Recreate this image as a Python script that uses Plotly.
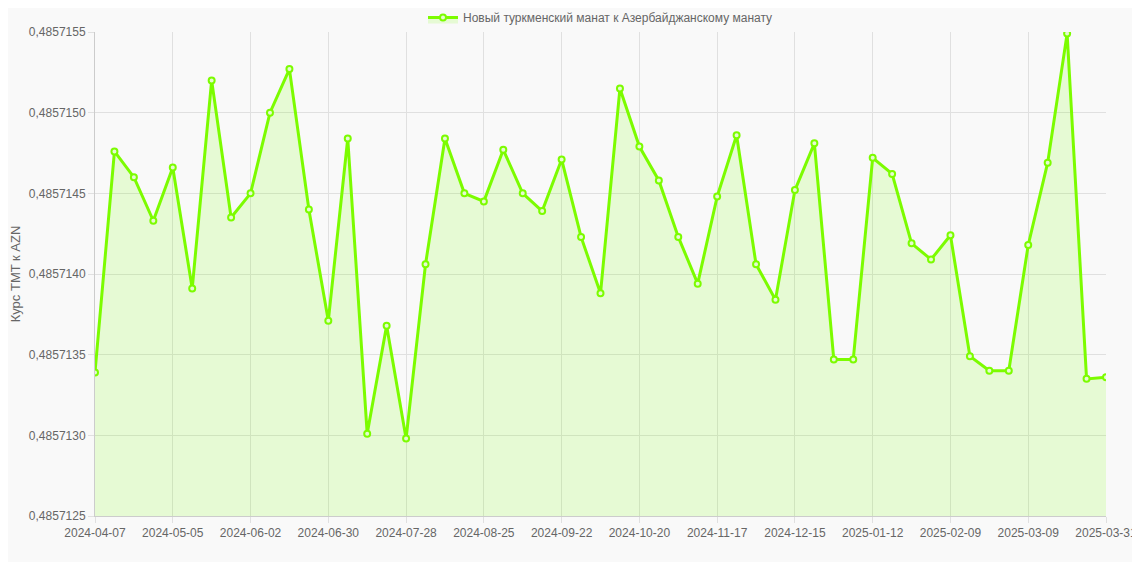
import pandas as pd
import plotly.graph_objs as go

### Data ###
dates = [d.strftime('%Y-%m-%d') for d in pd.date_range('2024-04-07', periods=52, freq='7D')] + ['2025-03-31']

rate_e7 = [133.9, 147.6, 146.0, 143.3, 146.6, 139.1, 152.0, 143.5, 145.0, 150.0,
           152.7, 144.0, 137.1, 148.4, 130.1, 136.8, 129.8, 140.6, 148.4, 145.0,
           144.5, 147.7, 145.0, 143.9, 147.1, 142.3, 138.8, 151.5, 147.9, 145.8,
           142.3, 139.4, 144.8, 148.6, 140.6, 138.4, 145.2, 148.1, 134.7, 134.7,
           147.2, 146.2, 141.9, 140.9, 142.4, 134.9, 134.0, 134.0, 141.8, 146.9,
           154.9, 133.5, 133.6]
rate = [0.4857 + v * 1e-7 for v in rate_e7]

tickDates = dates[::4] + [dates[-1]]
yTicks = [0.4857125 + i * 5e-7 for i in range(7)]

lineColor = '#7cfc00'

fig = go.Figure()
fig.add_trace(go.Scatter(
    x=dates, y=rate,
    mode='lines+markers',
    line=dict(color=lineColor, width=3),
    marker=dict(size=6, color='rgba(230,250,210,1)', line=dict(color=lineColor, width=2)),
    fill='tozeroy', fillcolor='rgba(124,252,0,0.15)',
    name='Новый туркменский манат к Азербайджанскому манату',
))

fig.update_layout(
    width=1124, height=554,
    margin=dict(l=87, r=26, t=24, b=46, autoexpand=False),
    paper_bgcolor='#f9f9f9', plot_bgcolor='#f9f9f9',
    font=dict(family='Arial, Liberation Sans', size=12, color='#666'),
    separators=', ',
    showlegend=True,
    legend=dict(orientation='h', x=0.5, xanchor='center', y=1.0, yanchor='bottom',
                font=dict(size=12, color='#666')),
    yaxis_title=dict(text='Курс TMT к AZN', font=dict(size=13, color='#666'), standoff=8),
)
fig.update_xaxes(type='category', tickvals=tickDates, ticktext=tickDates, tickangle=0,
                 showgrid=True, gridcolor='#e0e0e0', showline=True, linecolor='#ccc',
                 ticks='outside', ticklen=6, tickcolor='#e0e0e0', range=[0, len(dates) - 1],
                 automargin=False)
fig.update_yaxes(range=[0.4857125, 0.4857155], tickvals=yTicks, tickformat='.7f',
                 showgrid=True, gridcolor='#e0e0e0', showline=True, linecolor='#ccc',
                 ticks='outside', ticklen=6, tickcolor='#e0e0e0', zeroline=False,
                 automargin=False)

fig.write_html('out.html')
